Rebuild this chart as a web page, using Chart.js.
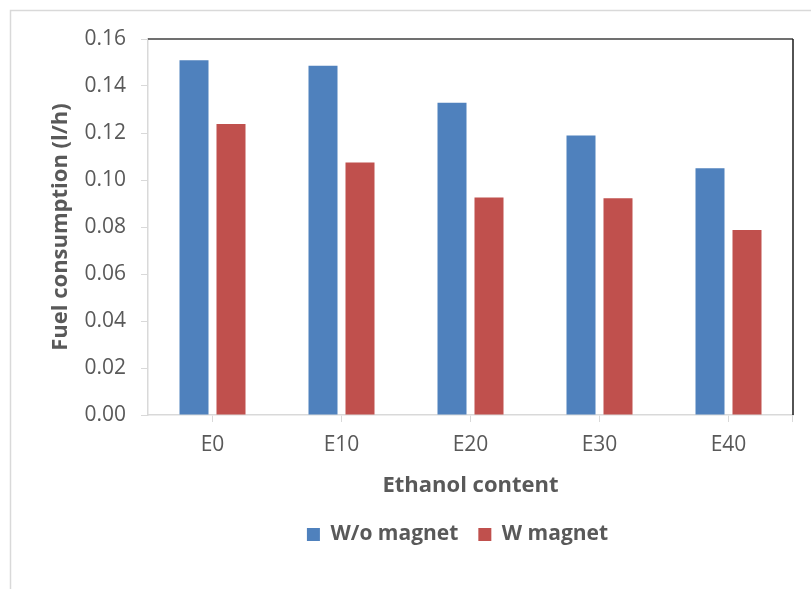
<!DOCTYPE html>
<html><head><meta charset="utf-8">
<script src="https://cdn.jsdelivr.net/npm/chart.js@4/dist/chart.umd.min.js"></script>
<style>html,body{margin:0;padding:0;background:#fff}#wrap{width:811px;height:589px;position:relative}</style>
</head><body><div id="wrap"><canvas id="c" width="811" height="589"></canvas></div>
<script>
const categories = ['E0', 'E10', 'E20', 'E30', 'E40'];
const withoutMagnet = [0.151, 0.1486, 0.1329, 0.1189, 0.105];
const withMagnet = [0.1238, 0.1075, 0.0926, 0.0922, 0.0787];
const seriesNames = ['W/o magnet', 'W magnet'];
const yMin = 0, yMax = 0.16, yStep = 0.02;
const xTitle = 'Ethanol content';
const yTitle = 'Fuel consumption (l/h)';

const TXT = '#595959';
const FONT = "'Open Sans', sans-serif";

const framePlugin = {
  id: 'frame',
  afterLayout(chart) {
    const lg = chart.legend;
    if (lg) { lg.left = 122; lg.top += 7; lg.bottom += 7; }
  },
  beforeDraw(chart) {
    const ctx = chart.ctx;
    ctx.save();
    ctx.fillStyle = '#fff';
    ctx.fillRect(0, 0, chart.width, chart.height);
    ctx.strokeStyle = '#d9d9d9';
    ctx.lineWidth = 1.5;
    ctx.beginPath();
    ctx.moveTo(10.5, chart.height);
    ctx.lineTo(10.5, 10.5);
    ctx.lineTo(chart.width, 10.5);
    ctx.stroke();
    ctx.restore();
  },
  afterDraw(chart) {
    const a = chart.chartArea;
    const ctx = chart.ctx;
    ctx.save();
    ctx.lineWidth = 1.5;
    ctx.strokeStyle = '#404040';
    ctx.beginPath();
    ctx.moveTo(a.left, a.top);
    ctx.lineTo(a.right, a.top);
    ctx.stroke();
    ctx.strokeStyle = '#1a1a1a';
    ctx.beginPath();
    ctx.moveTo(a.right, a.top);
    ctx.lineTo(a.right, a.bottom);
    ctx.stroke();
    ctx.strokeStyle = '#d9d9d9';
    ctx.lineWidth = 1;
    ctx.beginPath();
    ctx.moveTo(a.right - 0.5, a.bottom);
    ctx.lineTo(a.right - 0.5, a.bottom + 7);
    ctx.stroke();
    ctx.restore();
  }
};

new Chart(document.getElementById('c'), {
  type: 'bar',
  data: {
    labels: categories,
    datasets: [
      { label: seriesNames[0], data: withoutMagnet, backgroundColor: '#4F81BD', borderWidth: 0 },
      { label: seriesNames[1], data: withMagnet, backgroundColor: '#C0504D', borderWidth: 0 }
    ]
  },
  options: {
    responsive: false,
    animation: false,
    devicePixelRatio: 1,
    datasets: { bar: { categoryPercentage: 0.5736, barPercentage: 0.784 } },
    layout: { padding: { top: 39, right: 18, left: 0, bottom: 41 } },
    plugins: {
      tooltip: { enabled: false },
      legend: {
        position: 'bottom',
        labels: {
          color: TXT,
          font: { family: FONT, size: 21, weight: 'bold' },
          boxWidth: 13, boxHeight: 13, padding: 20
        }
      }
    },
    scales: {
      x: {
        grid: { display: true, drawOnChartArea: false, offset: false, color: '#d9d9d9', tickLength: 7 },
        border: { display: true, color: '#d9d9d9', width: 1.5 },
        ticks: { color: TXT, font: { family: FONT, size: 21 }, padding: 10, maxRotation: 0 },
        title: { display: true, text: xTitle, color: TXT, font: { family: FONT, size: 22, weight: 'bold', lineHeight: 1 }, padding: { top: 0, bottom: 0 } },
        afterFit(s) { s.height = 82; }
      },
      y: {
        min: yMin, max: yMax,
        grid: { display: true, drawOnChartArea: false, color: '#d9d9d9', tickLength: 7 },
        border: { display: true, color: '#d9d9d9', width: 1.5 },
        ticks: { stepSize: yStep, color: TXT, font: { family: FONT, size: 21 }, padding: 15,
          callback: v => Number(v).toFixed(2) },
        title: { display: true, text: yTitle, color: TXT, font: { family: FONT, size: 22, weight: 'bold', lineHeight: 1 }, padding: { top: 50, bottom: 0 } },
        afterFit(s) { s.width = 148; }
      }
    }
  },
  plugins: [framePlugin]
});
</script>
</body></html>
